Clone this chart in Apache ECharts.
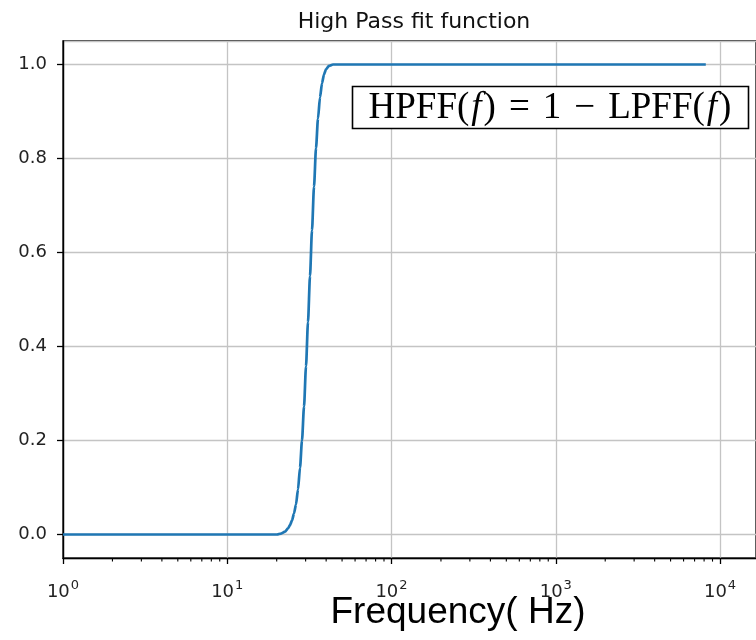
<!DOCTYPE html>
<html>
<head>
<meta charset="utf-8">
<title>High Pass fit function</title>
<script src="https://cdn.jsdelivr.net/npm/echarts@6/dist/echarts.min.js"></script>
<style>
  html, body { margin: 0; padding: 0; background: #fff; }
  #chart { width: 756px; height: 640px; }
</style>
</head>
<body>
<div id="chart"></div>
<script>
// High Pass fit function

// frequency (Hz) and fit value, HPFF(f)
const freqHz = [1, 5, 10, 15, 20.09, 21.25, 22.47, 23.44, 24.1, 24.79, 25.5, 26.21, 26.96, 27.73, 28.51, 29.33, 30.16, 31.01, 31.9, 32.8, 33.74, 34.7, 35.68, 36.7, 37.75, 38.82, 39.93, 41.64, 44.04, 60, 100, 1000, 8192];
const hpffValues = [0, 0, 0, 0, 0, 0.002, 0.006, 0.013, 0.02, 0.03, 0.045, 0.064, 0.096, 0.142, 0.2, 0.272, 0.358, 0.452, 0.55, 0.647, 0.74, 0.822, 0.885, 0.93, 0.96, 0.979, 0.99, 0.997, 1, 1, 1, 1, 1];

// axis ranges and ticks
const xMin = 1;
const xMax = 16560;
const yMin = -0.05;
const yMax = 1.05;
const minorTicks = [2, 3, 4, 5, 6, 7, 8, 9,
  20, 30, 40, 50, 60, 70, 80, 90,
  200, 300, 400, 500, 600, 700, 800, 900,
  2000, 3000, 4000, 5000, 6000, 7000, 8000, 9000];

const chartTitle = 'High Pass fit function';
const xLabel = 'Frequency( Hz)';

const tickFont = 'DejaVu Sans';
const lineColor = '#1f77b4';
const gridColor = '#c4c4c4';

const chart = echarts.init(document.getElementById('chart'), null, { renderer: 'canvas' });

const seriesData = freqHz.map((f, i) => [f, hpffValues[i]]);

const option = {
    animation: false,
    backgroundColor: '#fff',
    title: {
        text: chartTitle,
        left: 409,
        textAlign: 'center',
        top: 6,
        textStyle: {
            fontFamily: tickFont,
            fontSize: 22,
            fontWeight: 'normal',
            color: '#111'
        }
    },
    grid: {
        left: 63,
        top: 41,
        width: 693,
        height: 517,
        show: true,
        borderColor: '#000',
        borderWidth: 1.4,
        backgroundColor: 'transparent'
    },
    xAxis: {
        type: 'log',
        logBase: 10,
        min: xMin,
        max: xMax,
        axisLine: { show: true, onZero: false, lineStyle: { color: '#000', width: 1.4 } },
        axisTick: { show: true, inside: false, length: 6, lineStyle: { color: '#000', width: 1.3 } },
        splitLine: { show: true, lineStyle: { color: gridColor, width: 1.3 } },
        axisLabel: {
            margin: 21,
            showMaxLabel: false,
            formatter: function (v) {
                const e = Math.log10(v);
                if (Math.abs(e - Math.round(e)) > 1e-6) return '';
                return '{b|10}{s|' + Math.round(e) + '}';
            },
            rich: {
                b: { fontFamily: tickFont, fontSize: 18, color: '#222', verticalAlign: 'bottom' },
                s: { fontFamily: tickFont, fontSize: 13, color: '#222', verticalAlign: 'bottom', padding: [0, 0, 9, 1] }
            }
        }
    },
    yAxis: {
        type: 'value',
        min: yMin,
        max: yMax,
        splitNumber: 5,
        axisLine: { show: true, lineStyle: { color: '#000', width: 1.4 } },
        axisTick: { show: true, inside: false, length: 6, lineStyle: { color: '#000', width: 1.3 } },
        splitLine: { show: true, lineStyle: { color: gridColor, width: 1.3 } },
        axisLabel: {
            margin: 16,
            showMinLabel: false,
            showMaxLabel: false,
            fontFamily: tickFont,
            fontSize: 18,
            color: '#222',
            formatter: function (v) {
                const k = v * 5;
                if (Math.abs(k - Math.round(k)) > 1e-6) return '';
                return v.toFixed(1);
            }
        }
    },
    series: [
        {
            name: 'HPFF',
            type: 'line',
            data: seriesData,
            showSymbol: false,
            smooth: 0.25,
            smoothMonotone: 'x',
            lineStyle: { color: lineColor, width: 2.7, cap: 'butt', join: 'round' },
            z: 3
        },
        {
            name: 'minor ticks',
            type: 'custom',
            silent: true,
            clip: false,
            data: minorTicks.map(v => [v, yMin]),
            renderItem: function (params, api) {
                const p = api.coord([api.value(0), api.value(1)]);
                return {
                    type: 'line',
                    shape: { x1: p[0], y1: p[1], x2: p[0], y2: p[1] + 3.6 },
                    style: { stroke: '#000', lineWidth: 1.1 }
                };
            },
            z: 4
        }
    ],
    graphic: [
        {
            type: 'rect',
            shape: { x: 352.5, y: 86.5, width: 396, height: 42 },
            style: { fill: '#fff', stroke: '#000', lineWidth: 1.6 },
            z: 10
        },
        {
            type: 'text',
            x: 550,
            y: 108,
            style: {
                text: 'HPFF({i|f}){op|=}1{op|\u2212}LPFF({i|f})',
                fontFamily: 'Liberation Serif',
                fontSize: 37,
                fill: '#000',
                align: 'center',
                verticalAlign: 'middle',
                rich: {
                    i: { fontFamily: 'Liberation Serif', fontStyle: 'italic', fontSize: 37, fill: '#000', padding: [0, 2, 0, 2] },
                    op: { fontFamily: 'Liberation Serif', fontSize: 37, fill: '#000', padding: [0, 13, 0, 13] }
                }
            },
            z: 11
        },
        {
            type: 'text',
            x: 458,
            y: 613,
            style: {
                text: xLabel,
                fontFamily: 'Liberation Sans',
                fontSize: 37,
                fill: '#000',
                align: 'center',
                verticalAlign: 'middle'
            }
        }
    ]
};

chart.setOption(option);
window.addEventListener('resize', () => chart.resize());
</script>
</body>
</html>
